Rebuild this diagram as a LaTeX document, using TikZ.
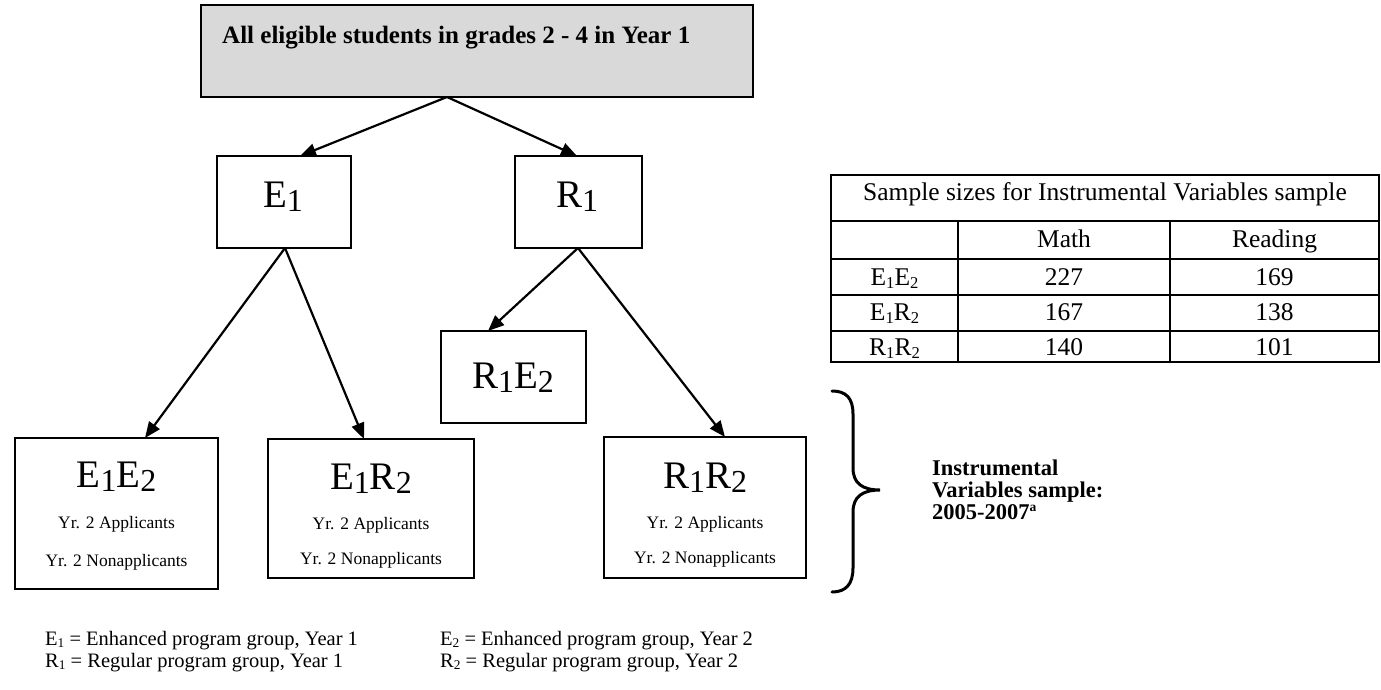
\documentclass[tikz,border=0pt]{standalone}
\usepackage{fontspec}
\setmainfont{Liberation Serif}
\usepackage{graphicx}
\usetikzlibrary{arrows.meta}
\newcommand{\ssub}[2][0.7]{\raisebox{-0.12em}{\scalebox{#1}{#2}}}
\newcommand{\ssup}[1]{\raisebox{0.38em}{\scalebox{0.6}{#1}}}
\newcommand{\fsz}[1]{\fontsize{#1}{#1}\selectfont}
\begin{document}
\begin{tikzpicture}[x=1pt,y=-1pt,
  boxn/.style={draw=black, line width=2pt, inner sep=0pt},
  topbox/.style={boxn, fill=black!15},
  txt/.style={anchor=base, inner sep=0pt},
  big/.style={txt, font=\fsz{39}},
  small/.style={txt, font=\fsz{17.5}},
  tabt/.style={txt, font=\fsz{25.5}},
  legt/.style={anchor=base west, inner sep=0pt, font=\fsz{20.5}},
  ivt/.style={anchor=north west, inner sep=0pt, align=left,
    font=\bfseries\fontsize{22.5}{22}\selectfont},
  arr/.style={line width=2.2pt, -{Triangle[length=16pt,width=13pt]}},
  tline/.style={line width=2pt},
  bracel/.style={line width=3pt, line cap=round}]
\useasboundingbox (0,0) rectangle (1381,689);

% top box
\node[topbox, minimum width=552pt, minimum height=92pt] (top) at (477,51) {};
\node[anchor=base west, inner sep=0pt, font=\bfseries\fsz{25}] (toptxt) at (222,43) {All eligible students in grades 2 - 4 in Year 1};

% level 1
\node[boxn, minimum width=134pt, minimum height=92pt] (E1) at (284,202) {};
\node[big] (E1t) at (283,207) {E\ssub[0.82]{1}};
\node[boxn, minimum width=127pt, minimum height=92pt] (R1) at (578.5,202) {};
\node[big] (R1t) at (577,207) {R\ssub[0.82]{1}};

% R1E2
\node[boxn, minimum width=145pt, minimum height=92pt] (R1E2) at (513.5,377) {};
\node[big] (R1E2t) at (513,388) {R\ssub[0.82]{1}E\ssub[0.82]{2}};

% level 2
\node[boxn, minimum width=203pt, minimum height=151pt] (E1E2) at (116.5,513.5) {};
\node[big] (E1E2t) at (116.5,487) {E\ssub[0.82]{1}E\ssub[0.82]{2}};
\node[small] (E1E2a) at (116.5,528) {Yr. 2 Applicants};
\node[small] (E1E2n) at (116.5,566) {Yr. 2 Nonapplicants};

\node[boxn, minimum width=206pt, minimum height=139pt] (E1R2) at (371,508.5) {};
\node[big] (E1R2t) at (371,489) {E\ssub[0.82]{1}R\ssub[0.82]{2}};
\node[small] (E1R2a) at (371,529) {Yr. 2 Applicants};
\node[small] (E1R2n) at (371,564) {Yr. 2 Nonapplicants};

\node[boxn, minimum width=202pt, minimum height=141pt] (R1R2) at (705,507.5) {};
\node[big] (R1R2t) at (705,488) {R\ssub[0.82]{1}R\ssub[0.82]{2}};
\node[small] (R1R2a) at (705,528) {Yr. 2 Applicants};
\node[small] (R1R2n) at (705,563) {Yr. 2 Nonapplicants};

% connector end points
\coordinate (topout) at (447,97);
\coordinate (E1in) at (300,156);
\coordinate (R1in) at (577,156);
\coordinate (E1out) at (285,248);
\coordinate (R1out) at (578,248);
\coordinate (E1E2in) at (145,438);
\coordinate (E1R2in) at (364,439);
\coordinate (R1E2in) at (488,331);
\coordinate (R1R2in) at (725,437);

\draw[arr] (topout) -- (E1in);
\draw[arr] (topout) -- (R1in);
\draw[arr] (E1out) -- (E1E2in);
\draw[arr] (E1out) -- (E1R2in);
\draw[arr] (R1out) -- (R1E2in);
\draw[arr] (R1out) -- (R1R2in);

% brace
\draw[bracel] (832,391) .. controls (846,391) and (853,398) .. (853,414)
  -- (853,468) .. controls (853,483) and (862,490) .. (880,490)
  .. controls (862,490) and (853,497) .. (853,512)
  -- (853,568) .. controls (853,584) and (846,592) .. (832,592);

\node[ivt] (iv) at (932,460) {Instrumental\\Variables sample:\\2005-2007\ssup{a}};

% table
\draw[tline] (831,175) rectangle (1379,362);
\draw[tline] (831,221) -- (1379,221);
\draw[tline] (831,259) -- (1379,259);
\draw[tline] (831,295) -- (1379,295);
\draw[tline] (831,331) -- (1379,331);
\draw[tline] (958,221) -- (958,362);
\draw[tline] (1170,221) -- (1170,362);

\node[tabt] (ttl) at (1105,200) {Sample sizes for Instrumental Variables sample};
\node[tabt] (hm) at (1064,247) {Math};
\node[tabt] (hr) at (1274.5,247) {Reading};
\node[tabt] (r1) at (894.5,285) {E\ssub[0.65]{1}E\ssub[0.65]{2}};
\node[tabt] (r1m) at (1064,285) {227};
\node[tabt] (r1r) at (1274.5,285) {169};
\node[tabt] (r2) at (894.5,320) {E\ssub[0.65]{1}R\ssub[0.65]{2}};
\node[tabt] (r2m) at (1064,320) {167};
\node[tabt] (r2r) at (1274.5,320) {138};
\node[tabt] (r3) at (894.5,355) {R\ssub[0.65]{1}R\ssub[0.65]{2}};
\node[tabt] (r3m) at (1064,355) {140};
\node[tabt] (r3r) at (1274.5,355) {101};

% legend
\node[legt] (lg1) at (45,645) {E\ssub[0.65]{1} = Enhanced program group, Year 1};
\node[legt] (lg2) at (45,667) {R\ssub[0.65]{1} = Regular program group, Year 1};
\node[legt] (lg3) at (440,645) {E\ssub[0.65]{2} = Enhanced program group, Year 2};
\node[legt] (lg4) at (440,667) {R\ssub[0.65]{2} = Regular program group, Year 2};
\end{tikzpicture}
\end{document}
